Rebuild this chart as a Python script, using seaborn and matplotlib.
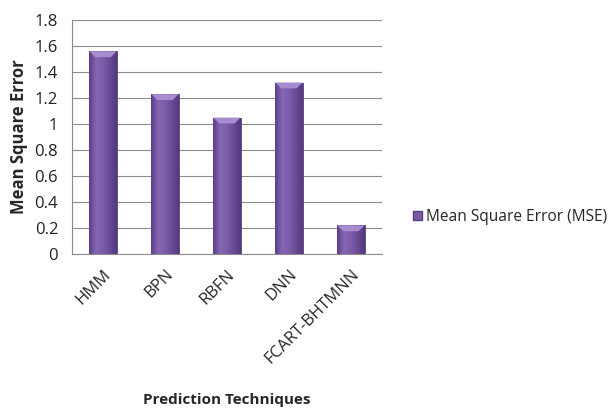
import matplotlib
matplotlib.use("Agg")
import matplotlib.pyplot as plt
import matplotlib.patches as mpatches
import seaborn as sns
import pandas as pd
import numpy as np

techniques = ["HMM", "BPN", "RBFN", "DNN", "FCART-BHTMNN"]
mse = [1.56, 1.23, 1.05, 1.32, 0.22]
series_name = "Mean Square Error (MSE)"
y_ticks = [0, 0.2, 0.4, 0.6, 0.8, 1, 1.2, 1.4, 1.6, 1.8]
y_tick_labels = ["0", "0.2", "0.4", "0.6", "0.8", "1", "1.2", "1.4", "1.6", "1.8"]

df = pd.DataFrame({"technique": techniques, "mse": mse})

sns.set_style("white")
plt.rcParams["font.family"] = ["Open Sans", "DejaVu Sans"]

fig = plt.figure(figsize=(6.11, 4.11), dpi=100)
ax = fig.add_axes([0.118, 0.382, 0.507, 0.569])

ax = sns.barplot(data=df, x="technique", y="mse", color="#7b5aa6", width=0.44,
                 edgecolor="#5a3d82", linewidth=0.6, ax=ax, zorder=3)

# fake the excel cylinder shading with a clipped gradient on each bar
cmap = matplotlib.colors.LinearSegmentedColormap.from_list(
    "cyl", ["#5b3e86", "#8667b3", "#7d5caa", "#6a4b95", "#54387d"])
grad = np.linspace(0, 1, 64).reshape(1, -1)
for p in ax.patches:
    x0, y0 = p.get_x(), p.get_y()
    w, h = p.get_width(), p.get_height()
    im = ax.imshow(grad, cmap=cmap, aspect="auto", extent=(x0, x0 + w, y0, y0 + h),
                   zorder=4, interpolation="bicubic")
    im.set_clip_path(p)
    # lighter top cap
    cap = mpatches.Polygon([(x0, y0 + h), (x0 + w, y0 + h), (x0 + w * 0.78, y0 + h - 0.045),
                            (x0 + w * 0.22, y0 + h - 0.045)], closed=True,
                           facecolor="#a78cd0", edgecolor="none", zorder=5)
    ax.add_patch(cap)

ax.set_xlim(-0.5, len(techniques) - 0.5)
ax.set_ylim(0, 1.8)
ax.set_yticks(y_ticks)
ax.set_yticklabels(y_tick_labels, fontsize=12, color="#222222")
ax.set_xticks(range(len(techniques)))
ax.set_xticklabels(techniques, rotation=45, ha="right", rotation_mode="anchor", fontsize=12)
ax.yaxis.grid(True, color="#8c8c8c", linewidth=0.8, zorder=0)
ax.set_axisbelow(True)

for s in ["top", "right"]:
    ax.spines[s].set_visible(False)
for s in ["left", "bottom"]:
    ax.spines[s].set_color("#8c8c8c")
    ax.spines[s].set_linewidth(0.8)
ax.tick_params(axis="y", length=6, color="#8c8c8c", width=0.8, pad=4)
ax.tick_params(axis="x", length=0, pad=9)

ax.set_xlabel("")
ax.set_ylabel("Mean Square Error", fontsize=12, fontweight="bold", labelpad=5)
fig.text(0.371, 0.027, "Prediction Techniques", fontsize=11, fontweight="bold",
         ha="center", va="center")

handle = mpatches.Patch(facecolor="#7b5aa6", edgecolor="#5a3d82", label=series_name)
fig.legend(handles=[handle], loc="center left", bbox_to_anchor=(0.666, 0.472),
           frameon=False, fontsize=11.2, handlelength=0.6, handleheight=0.6,
           handletextpad=0.25, borderaxespad=0)

fig.savefig("out.png", dpi=100)
